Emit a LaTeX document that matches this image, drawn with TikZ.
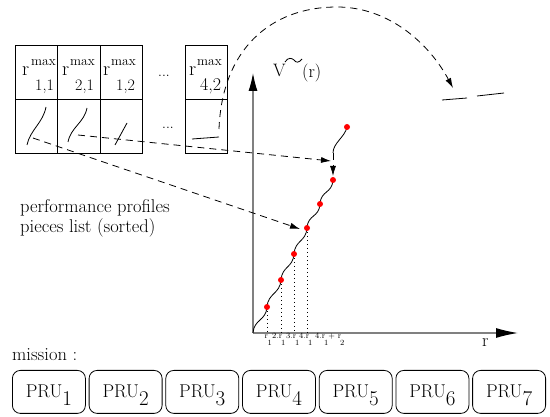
\documentclass[tikz,border=0pt]{standalone}
\usetikzlibrary{arrows.meta}
\newcommand\fs[1]{\fontsize{#1}{#1}\selectfont}
\newcommand\lowr[2]{\raisebox{-#1}{#2}}
\begin{document}
\begin{tikzpicture}[x=1pt,y=-1pt,
  cellbox/.style={draw, line width=0.8pt, minimum width=42.33pt, minimum height=54pt, inner sep=0, anchor=north west},
  txt/.style={anchor=base west, inner sep=0},
  dline/.style={dash pattern=on 7pt off 5pt, line width=0.8pt},
  darrow/.style={dline, -{Latex[length=10pt,width=6pt]}},
  yaxis/.style={draw=gray, line width=1.2pt, -{Latex[length=18pt,width=9pt,color=black]}},
  xaxis/.style={draw=gray, line width=1.2pt, -{Latex[length=22pt,width=10pt,color=black]}},
  pru/.style={draw, rounded corners=8pt, minimum width=73pt, minimum height=43pt, line width=0.8pt, text height=16pt, text depth=5pt, inner sep=0, anchor=north west},
  rdot/.style={circle, fill=red, inner sep=0, minimum size=6pt},
  piece/.style={line width=0.8pt},
  dotline/.style={line width=0.9pt, dash pattern=on 1pt off 3pt},
]
\useasboundingbox (0,0) rectangle (550,417);

% table of profile pieces
\node[cellbox] (a1) at (15,45) {};
\node[cellbox] (b1) at (15,99) {};
\node[cellbox] (a2) at (57.33,45) {};
\node[cellbox] (b2) at (57.33,99) {};
\node[cellbox] (a3) at (99.66,45) {};
\node[cellbox] (b3) at (99.66,99) {};
\node[cellbox] (a4) at (184.5,45) {};
\node[cellbox] (b4) at (184.5,99) {};

\node[txt] (r1) at (22,76) {\fs{20}r};
\node[txt] (m1) at (31,66) {\fs{13.5}max};
\node[txt] (s1) at (35,91) {\fs{16}1,1};
\node[txt] (r2) at (62,76) {\fs{20}r};
\node[txt] (m2) at (70,66) {\fs{13.5}max};
\node[txt] (s2) at (75,91) {\fs{16}2,1};
\node[txt] (r3) at (103,76) {\fs{20}r};
\node[txt] (m3) at (111,66) {\fs{13.5}max};
\node[txt] (s3) at (116,91) {\fs{16}1,2};
\node[txt] (r4) at (189,76) {\fs{20}r};
\node[txt] (m4) at (197,66) {\fs{13.5}max};
\node[txt] (s4) at (200,91) {\fs{18}4,2};
\node[txt] (e1) at (158,77) {\fs{14}...};
\node[txt] (e2) at (162,129) {\fs{14}...};

\draw[piece] (27,145) .. controls (30,130) and (43,123) .. (46,107);
\draw[piece] (68,142) .. controls (71,127) and (84,123) .. (87,108);
\draw[piece] (115,145) -- (127,123);
\draw[piece] (192,139) -- (219,137);

% axes
\coordinate (O) at (253,333);
\coordinate (ytip) at (253,73);
\coordinate (xtip) at (518,333);
\draw[yaxis] (O) -- (ytip);
\draw[xaxis] (O) -- (xtip);

\node[txt] (V) at (273,77) {\fs{18}V};
\node[txt] (Vr) at (302,78) {\fs{18}(r)};
\draw[line width=0.8pt] (285,62) .. controls (288,57) and (292,58) .. (294,60) .. controls (296,63) and (299,63) .. (302,59);
\node[txt] (rlab) at (482,347) {\fs{18}r};

% curve
\coordinate (c1) at (267,307);
\coordinate (c2) at (281,280);
\coordinate (c3) at (294,254);
\coordinate (c4) at (307,228);
\coordinate (c5) at (320,204);
\coordinate (c6) at (333,180);
\coordinate (c7) at (347,127);
\coordinate (c7b) at (333,153);
\draw[piece] (O) .. controls +(1,-14) and +(-1,14) .. (c1)
  .. controls +(1,-14) and +(-1,14) .. (c2)
  .. controls +(1,-14) and +(-1,14) .. (c3)
  .. controls +(1,-14) and +(-1,14) .. (c4)
  .. controls +(1,-14) and +(-1,14) .. (c5)
  .. controls +(1,-14) and +(-1,14) .. (c6);
\draw[piece] (c7b) .. controls +(0,-10) and +(-2,10) .. (c7);

\draw[dotline] (c1) -- (c1 |- O);
\draw[dotline] (c2) -- (c2 |- O);
\draw[dotline] (c3) -- (c3 |- O);
\draw[dotline] (c4) -- (c4 |- O);

\node[rdot] (d1) at (c1) {};
\node[rdot] (d2) at (c2) {};
\node[rdot] (d3) at (c3) {};
\node[rdot] (d4) at (c4) {};
\node[rdot] (d5) at (c5) {};
\node[rdot] (d6) at (c6) {};
\node[rdot] (d7) at (c7) {};

% tick labels
\node[txt] (l1) at (264.5,339) {\fs{8}r\kern-0.5pt\lowr{7pt}{1}};
\node[txt] (l2) at (272,339) {\fs{8}2.r\kern-1pt\lowr{7pt}{1}};
\node[txt] (l3) at (286,339) {\fs{8}3.r\kern-1pt\lowr{7pt}{1}};
\node[txt] (l4) at (299,339) {\fs{8}4.r\kern-1pt\lowr{7pt}{1}};
\node[txt] (l5) at (315,339) {\fs{8}4.r\kern-1pt\lowr{7pt}{1}+ r\kern-1pt\lowr{7pt}{2}};

% connectors
\coordinate (p1) at (33,138);
\coordinate (p2) at (78,135);
\coordinate (p4) at (219,129);
\coordinate (t1) at (300,229);
\coordinate (t2) at (331,161);
\coordinate (t3) at (453,88);
\coordinate (t4) at (333,176);
\draw[darrow] (p1) -- (t1);
\draw[darrow] (p2) -- (t2);
\draw[darrow] (c7b) -- (t4);
\draw[darrow] (p4) .. controls (222,50) and (270,7) .. (337,7) .. controls (390,7) and (430,45) .. (t3);

% moved piece
\draw[piece] (442,100) -- (467,98);
\draw[piece] (477,96) -- (504,93);

% texts
\node[txt] (perf1) at (20,213) {\fs{18.5}performance profiles};
\node[txt] (perf2) at (20,233) {\fs{18.5}pieces list (sorted)};
\node[txt] (mission) at (12,361) {\fs{18.5}mission :};

% PRU boxes
\foreach \i in {1,...,7}
  \node[pru] (pru\i) at ({12+(\i-1)*76.7},370) {\fs{18.5}PRU\lowr{8pt}{\fs{21}\i}\hspace{6pt}};
\end{tikzpicture}
\end{document}
